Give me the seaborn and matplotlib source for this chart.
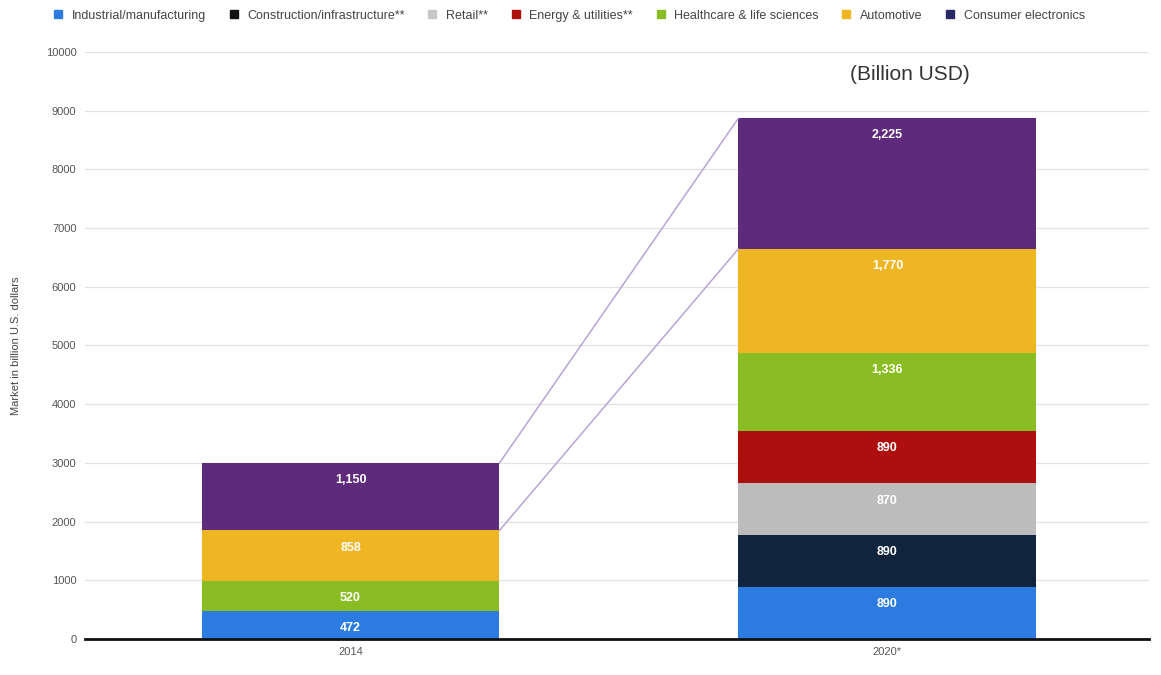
import matplotlib
matplotlib.use("Agg")
import matplotlib.pyplot as plt
from matplotlib.lines import Line2D
import numpy as np
import pandas as pd
import seaborn as sns

# Market size by sector, billion USD
years = ["2014", "2020*"]
sectors = [
    "Industrial/manufacturing",
    "Construction/infrastructure**",
    "Retail**",
    "Energy & utilities**",
    "Healthcare & life sciences",
    "Automotive",
    "Consumer electronics",
]
industrial = [472, 890]
construction = [0, 890]
retail = [0, 870]
energy = [0, 890]
healthcare = [520, 1336]
automotive = [858, 1770]
consumer = [1150, 2225]

colors = ["#2b7be0", "#10243d", "#bcbcbc", "#ad0f0f", "#8abd24", "#eeb622", "#5d2a7c"]
legend_colors = ["#2b7be0", "#111111", "#c8c8c8", "#ad0f0f", "#8abd24", "#eeb622", "#2a2a66"]

series = [industrial, construction, retail, energy, healthcare, automotive, consumer]

sns.set_theme(style="whitegrid")
plt.rcParams["font.family"] = ["Liberation Sans", "DejaVu Sans"]

fig = plt.figure(figsize=(11.61, 6.75), dpi=100)
ax = fig.add_axes([0.073, 0.0533, 0.917, 0.8697])

bar_w = 0.555
bottom = np.zeros(len(years))
tops = []
for name, vals, col in zip(sectors, series, colors):
    df = pd.DataFrame({"year": years, "value": vals})
    sns.barplot(data=df, x="year", y="value", color=col, width=bar_w,
                bottom=bottom, ax=ax, saturation=1, linewidth=0,
                errorbar=None)
    new_bottom = bottom + np.array(vals)
    for i, v in enumerate(vals):
        if v > 0:
            ax.annotate(f"{v:,}", xy=(i, new_bottom[i]), xytext=(0, -8),
                        textcoords="offset points", ha="center", va="top",
                        color="white", fontsize=9, fontweight="bold")
    tops.append(new_bottom.copy())
    bottom = new_bottom

# Growth guide lines between the two bars
line_col = "#b9a3d6"
for level in (tops[-1], tops[-2]):
    ax.plot([0 + bar_w / 2, 1 - bar_w / 2], [level[0], level[1]],
            color=line_col, linewidth=1.1, zorder=1)

ax.set_ylim(0, 10000)
ax.set_xlim(-0.495, 1.488)
ax.set_yticks(np.arange(0, 10001, 1000))
ax.set_yticklabels([str(t) for t in range(0, 10001, 1000)])
ax.tick_params(axis="both", labelsize=8, colors="#555555", length=0, pad=6)
ax.set_xlabel("")
ax.set_ylabel("Market in billion U.S. dollars", fontsize=8, color="#444444", labelpad=18)
ax.grid(axis="y", color="#e3e3e3", linewidth=0.9)
ax.grid(axis="x", visible=False)
ax.set_axisbelow(True)
for s in ("top", "right", "left"):
    ax.spines[s].set_visible(False)
ax.spines["bottom"].set_color("#111111")
ax.spines["bottom"].set_linewidth(2)

fig.text(910 / 1161, 1 - 75 / 675, "(Billion USD)", fontsize=15, color="#333333",
         ha="center", va="center")

handles = [Line2D([0], [0], marker="s", linestyle="", markersize=6,
                  markerfacecolor=c, markeredgecolor=c) for c in legend_colors]
fig.legend(handles, sectors, loc="center", bbox_to_anchor=(0.487, 0.977),
           ncol=7, frameon=False, fontsize=9, handletextpad=0.1,
           columnspacing=1.2, labelcolor="#444444")

fig.savefig("out.png", dpi=100)
